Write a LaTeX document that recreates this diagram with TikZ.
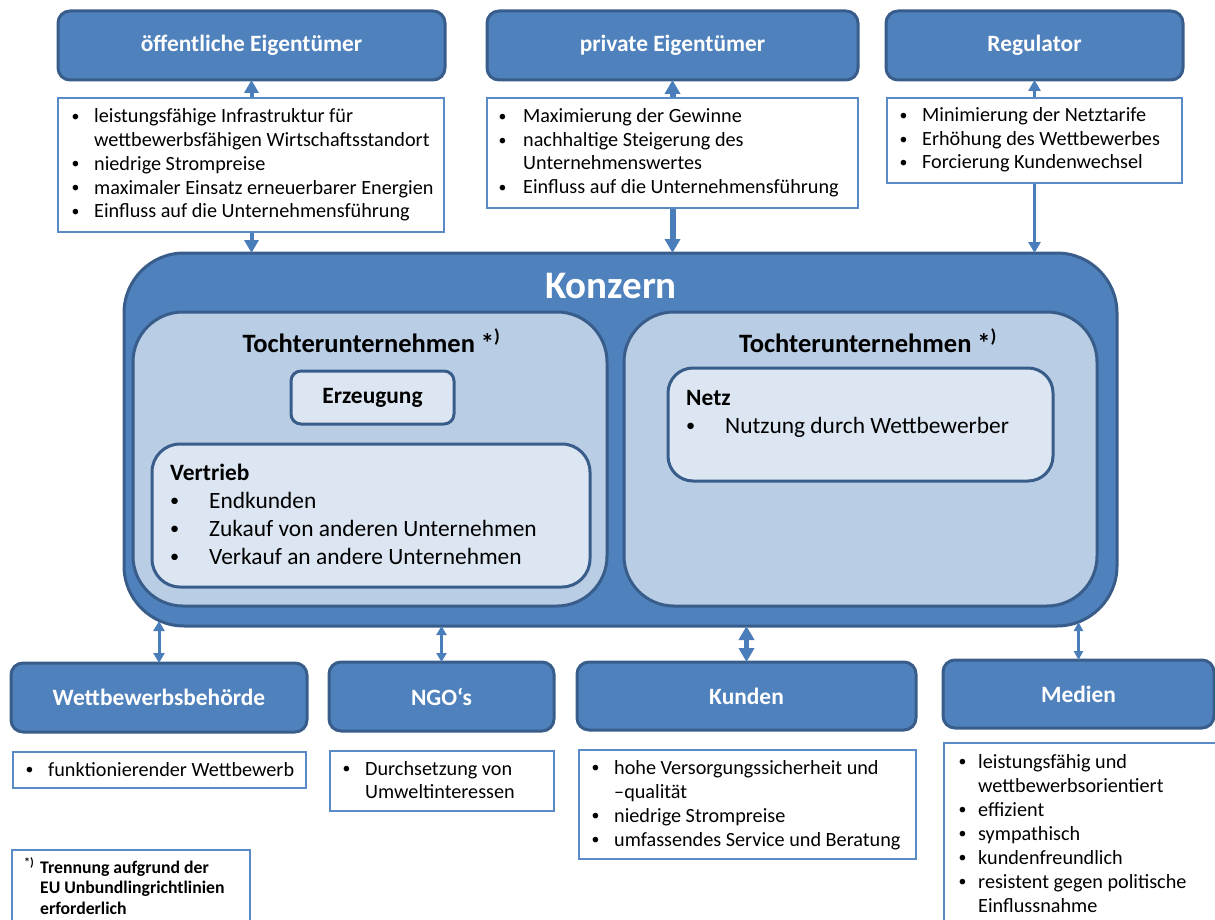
\documentclass[tikz,border=0pt]{standalone}
\usepackage{fontspec}
\setmainfont{Carlito}
\usetikzlibrary{arrows.meta,calc}

\definecolor{boxfill}{HTML}{4F81BD}
\definecolor{boxline}{HTML}{385D8A}
\definecolor{subfill}{HTML}{B9CDE5}
\definecolor{unitfill}{HTML}{DCE6F2}
\definecolor{noteline}{HTML}{5B8BC7}
\definecolor{arrowblue}{HTML}{4A7EBB}

% bullet lists with a hanging indent
\newlength\bi
\newcommand\bulletmark{\raisebox{0.07em}{\scalebox{0.78}{\textbullet}}}
\newcommand\itm{\par\hangindent=\bi\hangafter=1\noindent\makebox[\bi][l]{\bulletmark}}
\newcommand\blist[4]{\parbox[t]{420pt}{\fontsize{#2}{#3}\selectfont\setlength\bi{#1}\raggedright #4}}
\newcommand\ttlfont{\fontsize{23.4}{28}\selectfont\bfseries}

\tikzset{
  bluebox/.style={draw=boxline, fill=boxfill, line width=3pt, rounded corners=12pt,
    text=white, font=\ttlfont, inner sep=0pt, outer sep=0pt},
  listbox/.style={draw=noteline, fill=white, line width=1.2pt, inner sep=0pt, outer sep=0pt},
  groupbox/.style={draw=boxline, fill=boxfill, line width=3pt, rounded corners=60pt, inner sep=0pt, outer sep=0pt},
  subbox/.style={draw=boxline, fill=subfill, line width=3pt, rounded corners=50pt, inner sep=0pt, outer sep=0pt},
  unitbox/.style={draw=boxline, fill=unitfill, line width=3pt, inner sep=0pt, outer sep=0pt},
  txt/.style={anchor=base west, inner sep=0pt},
  ttl/.style={anchor=base, inner sep=0pt, font=\fontsize{26.5}{31}\selectfont\bfseries},
  link/.style={draw=arrowblue, line width=#1},
}

\begin{document}
\begin{tikzpicture}[x=1pt,y=1pt]
\useasboundingbox (0,0) rectangle (1215,-920);
\clip (0,0) rectangle (1215,-920);

% stakeholders above
\node[bluebox, minimum width=387pt, minimum height=69pt] (oe) at (251.5,-45.5) {öffentliche Eigentümer};
\node[bluebox, minimum width=371pt, minimum height=69pt] (pe) at (672.5,-45.5) {private Eigentümer};
\node[bluebox, minimum width=297pt, minimum height=69pt] (reg) at (1034.5,-45.5) {Regulator};

% the group with its subsidiaries
\node[groupbox, minimum width=993pt, minimum height=373pt] (kz) at (620.5,-439.5) {};
\node[anchor=base, inner sep=0pt, text=white, font=\fontsize{39}{46}\selectfont\bfseries] (kzt) at (611,-298) {Konzern};
\node[subbox, minimum width=474pt, minimum height=294pt] (t1) at (370,-459) {};
\node[subbox, minimum width=473pt, minimum height=294pt] (t2) at (860.5,-459) {};
\node[ttl] (t1t) at (371.5,-352) {Tochterunternehmen *\textsuperscript{)}};
\node[ttl] (t2t) at (868,-352) {Tochterunternehmen *\textsuperscript{)}};

\node[unitbox, rounded corners=10pt, minimum width=163pt, minimum height=53pt, font=\ttlfont] (erz) at (372.5,-397.5) {Erzeugung};
\node[unitbox, rounded corners=28pt, minimum width=438pt, minimum height=143pt] (vt) at (371,-515.5) {};
\node[txt] (vtt) at (170,-480) {\blist{39pt}{23.4}{28}{\noindent\textbf{Vertrieb}\itm Endkunden\itm Zukauf von anderen Unternehmen\itm Verkauf an andere Unternehmen}};
\node[unitbox, rounded corners=25pt, minimum width=385pt, minimum height=113pt] (nz) at (860.5,-424.5) {};
\node[txt] (nzt) at (686,-405) {\blist{39pt}{23.4}{28}{\noindent\textbf{Netz}\itm Nutzung durch Wettbewerber}};

% stakeholders below
\node[bluebox, minimum width=296pt, minimum height=69pt] (wb) at (159,-697.5) {Wettbewerbsbehörde};
\node[bluebox, minimum width=225pt, minimum height=69pt] (ngo) at (441.5,-696.5) {NGO‘s};
\node[bluebox, minimum width=339pt, minimum height=68pt] (ku) at (746.5,-696) {Kunden};
\node[bluebox, minimum width=271pt, minimum height=68pt] (me) at (1078.5,-694) {Medien};

% connectors
\draw[link=4pt, {Triangle[width=14pt,length=13pt]}-{Triangle[width=14pt,length=13pt]}] (oe.south) -- (oe.south |- kz.north);
\draw[link=6pt, {Triangle[width=15pt,length=14pt]}-{Triangle[width=15pt,length=14pt]}] (pe.south) -- (pe.south |- kz.north);
\draw[link=3pt, {Triangle[width=12pt,length=11pt]}-{Triangle[width=12pt,length=11pt]}] (reg.south) -- (reg.south |- kz.north);
\draw[link=3pt, {Triangle[width=11pt,length=10pt]}-{Triangle[width=11pt,length=10pt]}] ($(wb.north |- kz.south)+(0,5)$) -- (wb.north);
\draw[link=2.2pt, {Triangle[width=10pt,length=9pt]}-{Triangle[width=10pt,length=9pt]}] (ngo.north |- kz.south) -- (ngo.north);
\draw[link=5pt, {Triangle[width=15pt,length=14pt]}-{Triangle[width=15pt,length=14pt]}] (ku.north |- kz.south) -- (ku.north);
\draw[link=2.2pt, {Triangle[width=9pt,length=9pt]}-{Triangle[width=9pt,length=9pt]}] ($(me.north |- kz.south)+(0,4)$) -- (me.north);

% goals of the stakeholders
\node[listbox, minimum width=386pt, minimum height=134pt] (oel) at (251,-165) {};
\node[txt] (oelt) at (71.5,-123) {\blist{22.5pt}{20.2}{23.7}{\itm leistungsfähige Infrastruktur für\newline wettbewerbsfähigen Wirtschaftsstandort\itm niedrige Strompreise\itm maximaler Einsatz erneuerbarer Energien\itm Einfluss auf die Unternehmensführung}};

\node[listbox, minimum width=371pt, minimum height=110pt] (pel) at (672.5,-153) {};
\node[txt] (pelt) at (498.5,-123) {\blist{24.5pt}{20.2}{23.5}{\itm Maximierung der Gewinne\itm nachhaltige Steigerung des\newline Unternehmenswertes\itm Einfluss auf die Unternehmensführung}};

\node[listbox, minimum width=295pt, minimum height=85pt] (regl) at (1034.5,-140.5) {};
\node[txt] (reglt) at (899.5,-122) {\blist{22.5pt}{20.2}{23.5}{\itm Minimierung der Netztarife\itm Erhöhung des Wettbewerbes\itm Forcierung Kundenwechsel}};

\node[listbox, minimum width=293pt, minimum height=36pt] (wbl) at (159.5,-770) {};
\node[txt] (wblt) at (25.5,-776) {\blist{22.5pt}{20.2}{23.5}{\itm funktionierender Wettbewerb}};

\node[listbox, minimum width=224pt, minimum height=60pt] (ngol) at (442,-781) {};
\node[txt] (ngolt) at (342.5,-775) {\blist{22.5pt}{20.2}{23.3}{\itm Durchsetzung von\newline Umweltinteressen}};

\node[listbox, minimum width=337pt, minimum height=109pt] (kul) at (747.5,-804.5) {};
\node[txt] (kult) at (591.5,-774) {\blist{22.5pt}{20.2}{24}{\itm hohe Versorgungssicherheit und\newline –qualität\itm niedrige Strompreise\itm umfassendes Service und Beratung}};

\node[listbox, minimum width=296pt, minimum height=207pt] (mel) at (1092,-846.5) {};
\node[txt] (melt) at (958.5,-768) {\blist{19.5pt}{20.2}{24}{\itm leistungsfähig und\newline wettbewerbsorientiert\itm effizient\itm sympathisch\itm kundenfreundlich\itm resistent gegen politische\newline Einflussnahme}};

% footnote
\node[listbox, minimum width=238pt, minimum height=100pt] (fn) at (131,-900) {};
\node[txt] (fnt) at (24,-873) {\parbox[t]{230pt}{\fontsize{17.7}{20.5}\selectfont\bfseries\raggedright\hangindent=16pt\hangafter=1\noindent\makebox[16pt][l]{\raisebox{0.35em}{\fontsize{12}{12}\selectfont *)}}Trennung aufgrund der\newline EU Unbundlingrichtlinien\newline erforderlich}};
\end{tikzpicture}
\end{document}
